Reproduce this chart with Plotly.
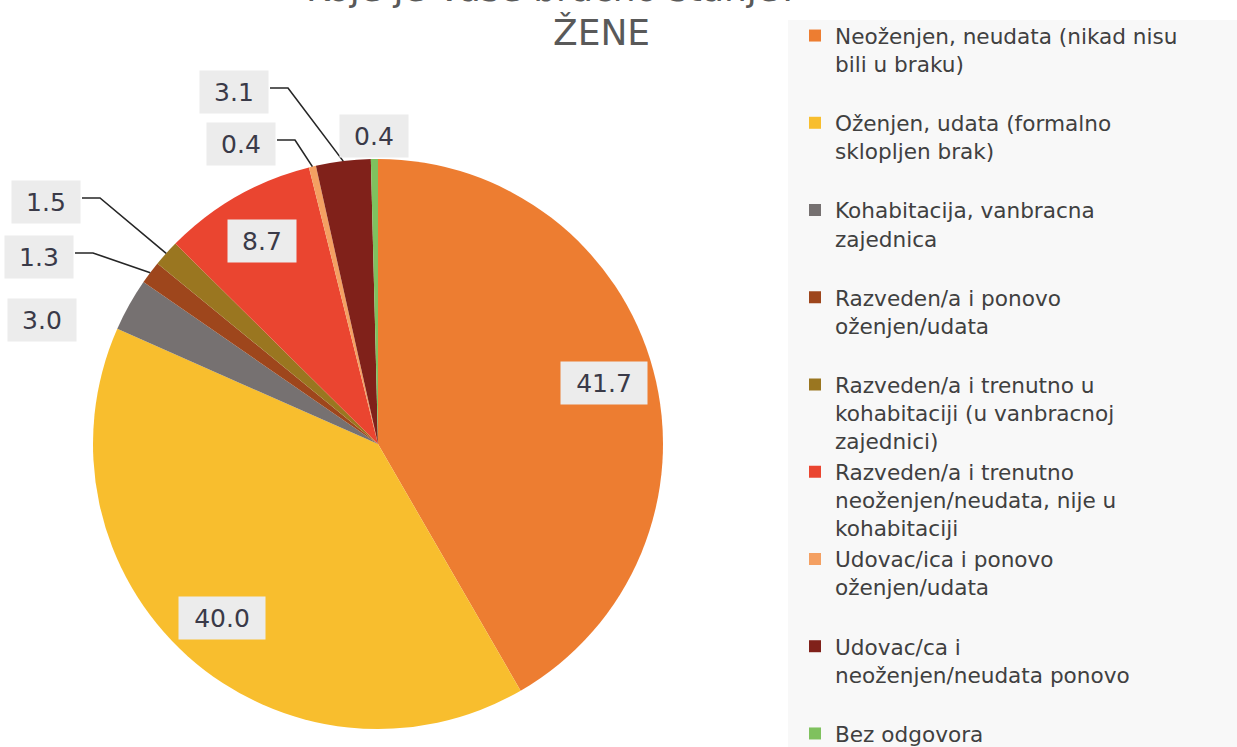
import math
import plotly.graph_objects as go

W, H = 1237, 747

# Marital status categories (women) and their shares in percent
categories = [
    "Neoženjen, neudata (nikad nisu<br>bili u braku)",
    "Oženjen, udata (formalno<br>sklopljen brak)",
    "Kohabitacija, vanbracna<br>zajednica",
    "Razveden/a i ponovo<br>oženjen/udata",
    "Razveden/a i trenutno u<br>kohabitaciji (u vanbracnoj<br>zajednici)",
    "Razveden/a i trenutno<br>neoženjen/neudata, nije u<br>kohabitaciji",
    "Udovac/ica i ponovo<br>oženjen/udata",
    "Udovac/ca i<br>neoženjen/neudata ponovo",
    "Bez odgovora",
]
shares = [41.7, 40.0, 3.0, 1.3, 1.5, 8.7, 0.4, 3.1, 0.4]
colors = ["#ED7D31", "#F8BE2E", "#767171", "#9E461C", "#9A7620",
          "#EA4530", "#F4A062", "#80211A", "#7FC15E"]

# Pie geometry in pixels
CX, CY, R = 378, 444, 285

def px(x):
    return x / W

def py(y):
    return 1 - y / H

# legend entries all take three lines so the items sit on an even pitch
legend_names = []
for c in categories:
    n = c.count("<br>") + 1
    legend_names.append(c + "<br> " * (3 - n))

fig = go.Figure()
fig.add_trace(go.Pie(
    labels=legend_names,
    values=shares,
    sort=False,
    direction="clockwise",
    rotation=0,
    marker=dict(colors=colors, line=dict(width=0)),
    textinfo="none",
    hoverinfo="skip",
    domain=dict(x=[px(CX - R), px(CX + R)], y=[py(CY + R), py(CY - R)]),
))

# label placement: inside labels follow the slice mid-angle, small slices
# get boxes set around the top-left edge (some with elbow leader lines)
outside_pos = {2: (42, 320), 3: (39, 257), 4: (46, 202),
               6: (241, 144), 7: (234, 92), 8: (374, 136)}
leaders = {3, 4, 6, 7}

total = sum(shares)
cum = 0.0
annotations = []
shapes = []
for i, v in enumerate(shares):
    mid = (cum + v / 2) / total * 2 * math.pi
    cum += v
    txt = f"{v:.1f}"
    wbox = 18 * len(txt) + 8
    if i in outside_pos:
        lx, ly = outside_pos[i]
    else:
        lx = CX + 0.82 * R * math.sin(mid)
        ly = CY - 0.82 * R * math.cos(mid)
    annotations.append(dict(
        x=px(lx), y=py(ly), xref="paper", yref="paper",
        xanchor="center", yanchor="middle",
        text=txt, showarrow=False, width=wbox, height=36,
        bgcolor="#ECECEC", borderpad=3,
        font=dict(family="DejaVu Sans", size=25, color="#3A3A48"),
    ))
    if i in leaders:
        ex = CX + R * math.sin(mid)
        ey = CY - R * math.cos(mid)
        sx = lx + wbox / 2 + 5
        kx = sx + 18
        sy = ly - 4
        shapes.append(dict(
            type="path", xref="paper", yref="paper",
            path=f"M {px(sx)} {py(sy)} L {px(kx)} {py(sy)} L {px(ex)} {py(ey)}",
            line=dict(color="#262626", width=1.6),
        ))

# title, two lines, the first one running off the top edge
annotations.append(dict(
    x=px(552), y=py(-12), xref="paper", yref="paper",
    xanchor="center", yanchor="middle",
    text="Koje je Vaše bračno stanje?", showarrow=False,
    font=dict(family="DejaVu Sans", size=36, color="#595959"),
))
annotations.append(dict(
    x=px(601), y=py(33), xref="paper", yref="paper",
    xanchor="center", yanchor="middle",
    text="ŽENE", showarrow=False,
    font=dict(family="DejaVu Sans", size=36, color="#595959"),
))

# light panel behind the legend
shapes.append(dict(
    type="rect", xref="paper", yref="paper", layer="below",
    x0=px(788), x1=1.01, y0=-0.01, y1=py(20),
    fillcolor="#F8F8F8", line=dict(width=0),
))

fig.update_layout(
    width=W, height=H,
    margin=dict(l=0, r=0, t=0, b=0, autoexpand=False),
    paper_bgcolor="white",
    plot_bgcolor="white",
    showlegend=True,
    legend=dict(
        x=px(795), y=py(15), xanchor="left", yanchor="top",
        bgcolor="rgba(0,0,0,0)", valign="top",
        font=dict(family="DejaVu Sans", size=21.6, color="#404040"),
        itemwidth=30, tracegroupgap=0, maxheight=2000,
    ),
    annotations=annotations,
    shapes=shapes,
)

fig.write_html("out.html")
